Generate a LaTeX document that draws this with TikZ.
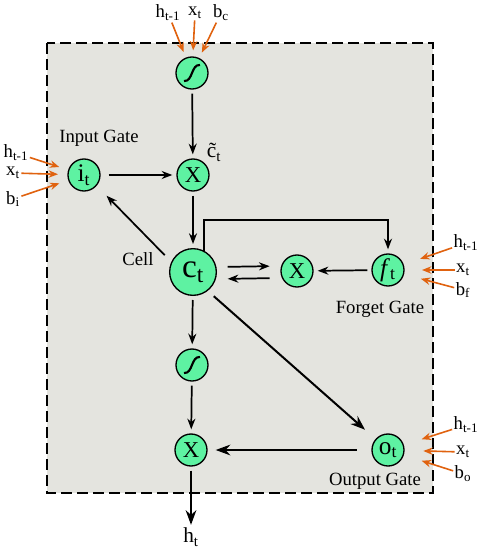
\documentclass[tikz,border=0pt]{standalone}
\usepackage{fontspec}
\setmainfont{Liberation Serif}
\usetikzlibrary{arrows.meta,calc,positioning}
\definecolor{lsCell}{HTML}{5EF2A2}
\definecolor{lsBack}{HTML}{E4E4DF}
\definecolor{lsIn}{HTML}{E0620F}
\tikzset{
  unit/.style={draw, circle, fill=lsCell, line width=1pt, minimum size=24pt,
    inner sep=0pt, font=\fontsize{17}{17}\selectfont},
  gate/.style={unit, font=\fontsize{19}{19}\selectfont},
  cell/.style={unit, minimum size=35pt, font=\fontsize{25}{25}\selectfont},
  lstm/.style={draw, line width=1.9pt, dash pattern=on 8pt off 4pt, fill=lsBack},
  link/.style={-{Stealth[length=8pt,width=6pt]}, line width=1.3pt, shorten <=3pt, shorten >=3pt},
  mainlink/.style={link, -{Stealth[length=11pt,width=8pt]}, line width=1.5pt},
  feed/.style={-{Stealth[length=7pt,width=5.5pt]}, line width=1.2pt, lsIn},
  inlabel/.style={font=\fontsize{14}{14}\selectfont, inner sep=1pt},
  tag/.style={font=\fontsize{14}{14}\selectfont}
}

\begin{document}
\begin{tikzpicture}[x=0.75pt, y=-0.75pt]
  \useasboundingbox (0,0) rectangle (481,550);
  \draw[lstm] (47,43) rectangle (433,493);

  % units
  \node[unit] (sigc) at (192,73) {};
  \node[unit] (mulc) at (193,175) {X};
  \node[gate] (it) at (84,175) {i\textsubscript{t}};
  \node[cell] (ct) at (193,272) {c\textsubscript{t}};
  \node[unit] (mulf) at (297,271) {X};
  \node[gate] (ft) at (388,270) {\textit{f}\textsubscript{t}};
  \node[unit] (sigh) at (192,365) {};
  \node[unit] (mulh) at (191,450) {X};
  \node[gate] (ot) at (388,450) {o\textsubscript{t}};
  \node[inlabel, font=\fontsize{16}{16}\selectfont] (ht) at (191,537) {h\textsubscript{t}};

  \foreach \s in {sigc, sigh}
    \draw[line width=1.6pt] ($(\s)+(-8,8)$) .. controls ($(\s)+(1,9)$) and ($(\s)+(-1,-9)$) .. ($(\s)+(8,-8)$);

  % tags
  \node[tag] at (99,138) {Input Gate};
  \node[tag] at (138,259) {Cell};
  \node[tag] at (380,309) {Forget Gate};
  \node[tag] at (375,481) {Output Gate};
  \node[inlabel, font=\fontsize{16}{16}\selectfont] at (214,152) {\~{c}\textsubscript{t}};

  % inputs
  \node[inlabel] (ha) at (168,13) {h\textsubscript{t-1}};
  \node[inlabel] (xa) at (195,13) {x\textsubscript{t}};
  \node[inlabel] (ba) at (221,13) {b\textsubscript{c}};
  \node[inlabel] (hi) at (16,153) {h\textsubscript{t-1}};
  \node[inlabel] (xi) at (13,173) {x\textsubscript{t}};
  \node[inlabel] (bi) at (13,199) {b\textsubscript{i}};
  \node[inlabel] (hf) at (466,243) {h\textsubscript{t-1}};
  \node[inlabel] (xf) at (463,270) {x\textsubscript{t}};
  \node[inlabel] (bf) at (463,290) {b\textsubscript{f}};
  \node[inlabel] (ho) at (466,425) {h\textsubscript{t-1}};
  \node[inlabel] (xo) at (463,452) {x\textsubscript{t}};
  \node[inlabel] (bo) at (463,474) {b\textsubscript{o}};

  \foreach \a in {ha, xa, ba}
    \draw[feed, shorten >=4.5pt] (\a) -- (sigc);
  \foreach \a in {hi, xi, bi}
    \draw[feed, shorten >=7pt] (\a) -- (it);
  \foreach \a in {hf, xf, bf}
    \draw[feed, shorten >=13pt] (\a) -- (ft);
  \foreach \a in {ho, xo, bo}
    \draw[feed, shorten >=14pt] (\a) -- (ot);

  % connections
  \draw[link] (sigc) -- (mulc);
  \draw[link, shorten <=6pt] (it) -- (mulc);
  \draw[link] (mulc) -- (ct);
  \draw[link, shorten <=7pt, shorten >=10.5pt] (ct.155) -- (it.-40);
  \draw[link, shorten <=0pt] (ct.62) -- ++(0,-31) -| (ft);
  \draw[link, shorten <=8pt, shorten >=8pt] ($(ct.east)+(0,-5)$) -- ($(mulf.west)+(0,-5)$);
  \draw[link, shorten <=8pt, shorten >=8pt] ($(mulf.west)+(0,7)$) -- ($(ct.east)+(0,7)$);
  \draw[link] (ft) -- (mulf);
  \draw[link] (ct) -- (sigh);
  \draw[link] (sigh) -- (mulh);
  \draw[mainlink, shorten <=6pt, shorten >=10.5pt] (ct.-52) -- (ot);
  \draw[mainlink, shorten <=11pt, shorten >=6pt] (ot) -- (mulh);
  \draw[mainlink, shorten >=1pt] (mulh) -- (ht);
\end{tikzpicture}
\end{document}
